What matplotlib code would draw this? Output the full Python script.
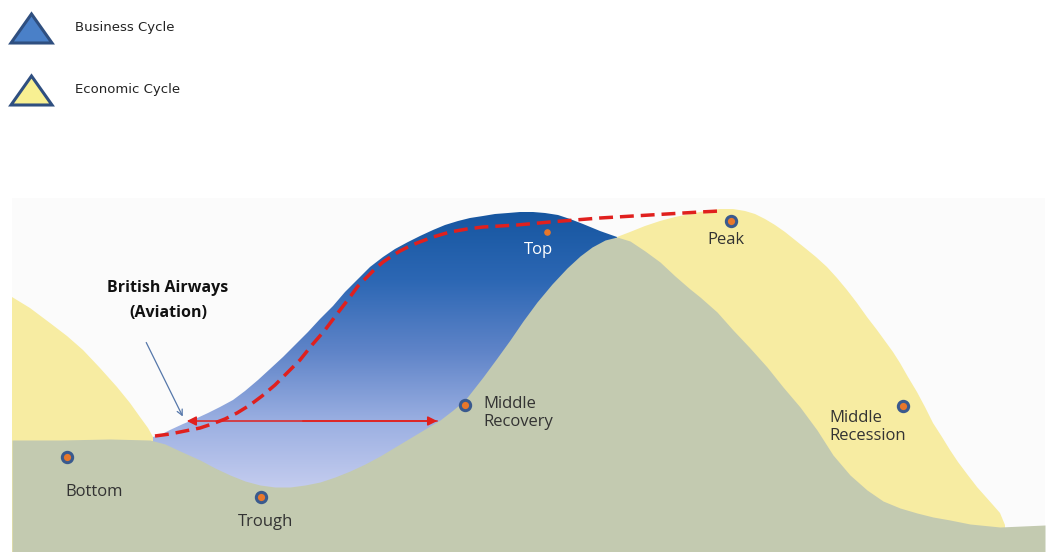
import numpy as np
import matplotlib
matplotlib.use("Agg")
import matplotlib.pyplot as plt
from matplotlib.patches import Polygon, Rectangle
from matplotlib.colors import LinearSegmentedColormap

# outlines (pixel coords, y downwards)
green_x = [12, 60, 110, 150, 165, 180, 200, 215, 230, 245, 260, 275, 290, 305, 320, 335, 350, 365, 380, 395, 410,
           425, 440, 453, 465, 483, 497, 510, 523, 537, 552, 567, 580, 592, 605, 617,
           630, 645, 660, 675, 690, 700, 717, 733, 750, 767, 783, 800, 817, 833, 850, 867, 883, 900, 917,
           933, 950, 970, 1000, 1045]
green_y = [440, 440, 439, 440, 444, 451, 460, 468, 475, 481, 485, 487, 487, 485, 482, 477, 471, 464, 456, 447, 438,
           429, 420, 410, 400, 377, 358, 340, 321, 302, 284, 268, 256, 247, 240, 237,
           241, 251, 262, 276, 289, 297, 312, 330, 348, 367, 387, 407, 430, 455, 475, 490, 501, 508, 513,
           517, 520, 524, 527, 525]

blue_x = [153, 162, 170, 183, 195, 208, 220, 233, 245, 258, 270, 283, 295, 308, 320, 333, 345, 358, 370, 383, 395,
          408, 420, 433, 445, 458, 470, 483, 495, 508, 520, 533, 545, 558, 570, 583, 600, 617]
blue_y = [437, 434, 430, 424, 419, 413, 407, 400, 391, 380, 369, 357, 345, 332, 319, 306, 292, 279, 267, 257, 249,
          242, 236, 230, 225, 221, 218, 216, 214, 213, 212, 212, 213, 215, 219, 224, 231, 237]

yellow_r_x = [617, 630, 645, 660, 675, 690, 705, 720, 733, 745, 755, 765, 775, 785, 795, 805, 816, 827, 837,
              847, 857, 867, 877, 885, 893, 900, 908, 917, 925, 933, 942, 950, 958, 967, 977, 985, 993, 1000, 1005]
yellow_r_y = [237, 232, 226, 221, 217, 214, 211, 209, 209, 211, 214, 219, 225, 232, 240, 248, 257, 267, 278,
              290, 303, 317, 330, 341, 352, 363, 377, 392, 407, 423, 437, 450, 462, 474, 487, 496, 505, 513, 525]

yellow_l_x = [12, 30, 50, 67, 83, 100, 117, 130, 140, 148, 153]
yellow_l_y = [297, 308, 323, 336, 350, 368, 387, 403, 417, 428, 437]

red_x = [155, 170, 185, 200, 212, 225, 237, 250, 262, 275, 287, 300, 312, 325, 337, 350, 358, 367, 375, 383,
         392, 400, 408, 417, 425, 433, 450, 467, 483, 500, 517, 550, 600, 650, 700, 720]
red_y = [436, 434, 431, 428, 424, 419, 413, 405, 396, 385, 373, 360, 345, 330, 314, 297, 286, 277, 269, 262,
         256, 251, 247, 243, 240, 237, 232, 229, 227, 226, 225, 222, 218, 215, 212, 211]

# phase points
phase_names = ["Bottom", "Trough", "Middle\nRecovery", "Peak", "Middle\nRecession"]
phase_x = [67, 261, 465, 731, 903]
phase_y = [457, 497, 405, 221, 406]
label_x = [65, 238, 483, 707, 829]
label_y = [492, 522, 413, 240, 427]

top_x, top_y = 547, 232

legend_labels = ["Business Cycle", "Economic Cycle"]
legend_fill = ["#4a80c8", "#f8f092"]
legend_y = [29, 91]

GREEN = "#c3cab0"
YELLOW = "#f7eca2"

fig = plt.figure(figsize=(10.5, 5.52), dpi=100)
ax = fig.add_axes([0, 0, 1, 1])
ax.set_xlim(0, 1050)
ax.set_ylim(552, 0)
ax.axis("off")

ax.add_patch(Rectangle((12, 198), 1033, 354, facecolor="#fbfbfb", edgecolor="none", zorder=0))

# economic cycle (yellow)
ax.add_patch(Polygon(list(zip(yellow_r_x, yellow_r_y)) + [(yellow_r_x[-1], 552), (yellow_r_x[0], 552)],
                     closed=True, facecolor=YELLOW, edgecolor="none", zorder=1))
ax.add_patch(Polygon(list(zip(yellow_l_x, yellow_l_y)) + [(yellow_l_x[-1], 552), (yellow_l_x[0], 552)],
                     closed=True, facecolor=YELLOW, edgecolor="none", zorder=1))

# business cycle (blue gradient)
blue_poly = Polygon(list(zip(blue_x, blue_y)) + [(blue_x[-1], 552), (blue_x[0], 552)],
                    closed=True, facecolor="none", edgecolor="none", zorder=1)
ax.add_patch(blue_poly)
cmap = LinearSegmentedColormap.from_list("bc", ["#15559f", "#2c67b4", "#5f84c8", "#9cb0e2", "#c8cff0"])
grad = np.linspace(0, 1, 256).reshape(-1, 1)
im = ax.imshow(grad, cmap=cmap, aspect="auto", extent=(150, 620, 495, 208), zorder=2, interpolation="bilinear")
im.set_clip_path(blue_poly)

# ground (green)
ax.fill_between(green_x, green_y, 552, color=GREEN, lw=0, zorder=3)

# dashed company path
ax.plot(red_x, red_y, color="#e0201e", lw=2.5, ls=(0, (4, 2)), zorder=5)

# lag arrow
ax.annotate("", xy=(184, 421), xytext=(440, 421),
            arrowprops=dict(arrowstyle="-|>", color="#e0201e", lw=1.1, mutation_scale=14), zorder=5)
ax.annotate("", xy=(440, 421), xytext=(300, 421),
            arrowprops=dict(arrowstyle="-|>", color="#e0201e", lw=1.1, mutation_scale=14), zorder=5)

# pointer
ax.annotate("", xy=(184, 419), xytext=(145, 340),
            arrowprops=dict(arrowstyle="->", color="#5577aa", lw=0.9), zorder=5)
ax.text(168, 288, "British Airways", ha="center", va="center", fontsize=11.5, fontweight="bold",
        family="Open Sans", color="#111111", zorder=6)
ax.text(168, 313, "(Aviation)", ha="center", va="center", fontsize=11.5, fontweight="bold",
        family="Open Sans", color="#111111", zorder=6)

# phase markers
ax.scatter(phase_x, phase_y, s=55, facecolor="#e8772b", edgecolor="#3a5a8e", linewidth=2.2, zorder=7)
ax.scatter([top_x], [top_y], s=14, color="#e8772b", zorder=7)
for name, lx, ly in zip(phase_names, label_x, label_y):
    ax.text(lx, ly, name, ha="left", va="center", fontsize=12, family="Open Sans", color="#333333",
            linespacing=1.2, zorder=7)
ax.text(538, 250, "Top", ha="center", va="center", fontsize=12, family="Open Sans", color="white", zorder=7)

# legend
for lab, fc, ly in zip(legend_labels, legend_fill, legend_y):
    tri = Polygon([(11, ly + 14), (31.5, ly - 15), (52, ly + 14)], closed=True, facecolor=fc,
                  edgecolor="#2f4f80", lw=2.2, joinstyle="miter", zorder=7)
    ax.add_patch(tri)
    ax.text(75, ly - 1, lab, ha="left", va="center", fontsize=9.5, family="DejaVu Sans", color="#222222", zorder=7)

fig.savefig("out.png", dpi=100)
